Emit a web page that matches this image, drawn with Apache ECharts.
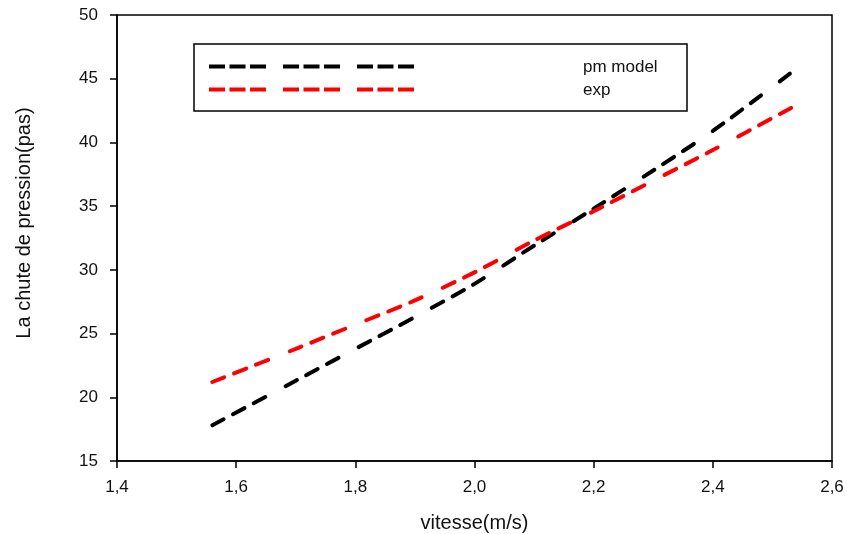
<!DOCTYPE html>
<html>
<head>
<meta charset="utf-8">
<script src="https://cdn.jsdelivr.net/npm/echarts@6/dist/echarts.min.js"></script>
<style>
html,body{margin:0;padding:0;background:#fff;}
#chart{width:847px;height:534px;}
</style>
</head>
<body>
<div id="chart"></div>
<script>
const xTicks = [1.4, 1.6, 1.8, 2.0, 2.2, 2.4, 2.6];
const yTicks = [15, 20, 25, 30, 35, 40, 45, 50];
const velocity = [1.56, 1.7, 1.8, 1.9, 2.0, 2.1, 2.2, 2.3, 2.4, 2.535];
const pmModel = [17.8, 21.3, 23.8, 26.3, 28.9, 31.9, 34.8, 37.8, 40.9, 45.6];
const expData = [21.2, 23.8, 25.7, 27.6, 29.8, 32.3, 34.6, 37.0, 39.4, 42.8];
const seriesNames = ['pm model', 'exp'];

const FONT = '"Liberation Sans", Arial, sans-serif';
const chart = echarts.init(document.getElementById('chart'), null, {renderer: 'canvas'});

function pairs(xs, ys) { return xs.map((x, i) => [x, ys[i]]); }

const dashPlot = [13, 10.5, 13, 10.5, 13, 23];
const dashLegend = [16, 4.5, 16, 4.5, 16, 17];

chart.setOption({
  backgroundColor: '#fff',
  animation: false,
  grid: {left: 117, right: 15, top: 15, bottom: 73, outerBoundsMode: 'none', containLabel: false,
         show: true, borderColor: '#000', borderWidth: 1.5, backgroundColor: 'transparent'},
  xAxis: {
    type: 'value', min: xTicks[0], max: xTicks[xTicks.length - 1], interval: 0.2,
    name: 'vitesse(m/s)', nameLocation: 'middle', nameGap: 52,
    nameTextStyle: {fontFamily: FONT, fontSize: 20, color: '#111'},
    axisLine: {show: true, onZero: false, lineStyle: {color: '#000', width: 1.5}},
    axisTick: {show: true, inside: false, length: 7, lineStyle: {color: '#000', width: 1.5}},
    axisLabel: {margin: 18, fontFamily: FONT, fontSize: 17, color: '#111', formatter: v => v.toFixed(1).replace('.', ',')},
    splitLine: {show: false}
  },
  yAxis: {
    type: 'value', min: yTicks[0], max: yTicks[yTicks.length - 1], interval: 5,
    name: 'La chute de pression(pas)', nameLocation: 'middle', nameGap: 83, nameRotate: 90,
    nameTextStyle: {fontFamily: FONT, fontSize: 20, color: '#111', padding: [0, 0, 0, 30]},
    axisLine: {show: true, onZero: false, lineStyle: {color: '#000', width: 1.5}},
    axisTick: {show: true, inside: false, length: 7, lineStyle: {color: '#000', width: 1.5}},
    axisLabel: {margin: 19, fontFamily: FONT, fontSize: 17, color: '#111'},
    splitLine: {show: false}
  },
  series: [
    {name: seriesNames[0], type: 'line', data: pairs(velocity, pmModel), symbol: 'none', smooth: 0.3,
     lineStyle: {color: '#000', width: 4, type: dashPlot, cap: 'round'}},
    {name: seriesNames[1], type: 'line', data: pairs(velocity, expData), symbol: 'none', smooth: 0.3,
     lineStyle: {color: '#ff0000', width: 4, type: dashPlot, cap: 'round'}}
  ],
  graphic: [
    {type: 'rect', shape: {x: 194, y: 44, width: 493, height: 67}, style: {fill: '#fff', stroke: '#000', lineWidth: 1.5}, z: 100},
    {type: 'line', shape: {x1: 209, y1: 66.5, x2: 418, y2: 66.5}, style: {stroke: '#000', lineWidth: 4, lineDash: dashLegend, lineCap: 'butt'}, z: 101},
    {type: 'line', shape: {x1: 209, y1: 89.5, x2: 418, y2: 89.5}, style: {stroke: '#ff0000', lineWidth: 4, lineDash: dashLegend, lineCap: 'butt'}, z: 101},
    {type: 'text', x: 583, y: 67, style: {text: seriesNames[0], font: '17px ' + FONT, fill: '#111', verticalAlign: 'middle'}, z: 101},
    {type: 'text', x: 583, y: 90, style: {text: seriesNames[1], font: '17px ' + FONT, fill: '#111', verticalAlign: 'middle'}, z: 101}
  ]
});
</script>
</body>
</html>
